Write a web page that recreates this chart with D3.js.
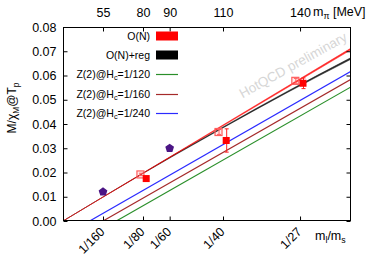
<!DOCTYPE html>
<html>
<head>
<meta charset="utf-8">
<script src="https://cdn.jsdelivr.net/npm/d3@7"></script>
<style>
  body { margin: 0; background: #fff; }
  text { font-family: "Liberation Sans", Arial, sans-serif; }
</style>
</head>
<body>
<script>
// m_l/m_s tick positions and labels, with the matching m_pi labels on top
const ratioTicks = [1 / 160, 1 / 80, 1 / 60, 1 / 40, 1 / 27];
const ratioLabels = ['1/160', '1/80', '1/60', '1/40', '1/27'];
const mpiLabels = ['55', '80', '90', '110', '140'];
const yTicks = [0, 0.01, 0.02, 0.03, 0.04, 0.05, 0.06, 0.07, 0.08];

// O(N) band (lower / upper edge)
const onX = [0, 0.045];
const onLow = [0, 0.0706];
const onHigh = [0, 0.0713];
// O(N)+reg band
const regX = [0, 0.0125, 0.0175, 0.025, 0.035, 0.045];
const regLow = [0, 0.0196, 0.0272, 0.0384, 0.0529, 0.0667];
const regHigh = [0, 0.0198, 0.0276, 0.0388, 0.0534, 0.0674];

// Z(2) lines: start at H_c on the axis, value at right edge
const zNames = ['1/120', '1/160', '1/240'];
const zStart = [1 / 120, 1 / 160, 1 / 240];
const zEnd = [0.0553, 0.0584, 0.0617];
const zColors = ['#2a8f2a', '#a52a2a', '#2b2bff'];

// lattice points
const openX = [0.0121, 0.0243, 0.0363];
const openY = [0.0192, 0.0367, 0.0578];
const openErr = [0.0005, 0.0010, 0.0010];
const fillX = [0.0130, 0.0255, 0.0375];
const fillY = [0.0175, 0.0332, 0.0568];
const fillErr = [0.0004, 0.0048, 0.0022];
const pentX = [1 / 160, 1 / 60];
const pentY = [0.0120, 0.0300];

const width = 374, height = 262;
const mLeft = 63, mRight = 351, mTop = 27, mBottom = 221;

const xScale = d3.scaleLinear().domain([0, 0.045]).range([mLeft, mRight]);
const yScale = d3.scaleLinear().domain([0, 0.08]).range([mBottom, mTop]);

const svg = d3.select('body')
  .append('svg')
  .attr('width', width)
  .attr('height', height);

svg.append('clipPath').attr('id', 'plot')
  .append('rect')
  .attr('x', mLeft).attr('y', mTop)
  .attr('width', mRight - mLeft).attr('height', mBottom - mTop);

// watermark
svg.append('text')
  .attr('transform', 'translate(293,65) rotate(-29)')
  .attr('text-anchor', 'middle')
  .attr('dy', '0.35em')
  .attr('font-size', 13.5)
  .attr('fill', '#d6d6d6')
  .text('HotQCD preliminary');

const plot = svg.append('g').attr('clip-path', 'url(#plot)');

// Z(2) lines
zStart.forEach((s, i) =>
{
  plot.append('line')
    .attr('x1', xScale(s)).attr('y1', yScale(0))
    .attr('x2', xScale(0.045)).attr('y2', yScale(zEnd[i]))
    .attr('stroke', zColors[i])
    .attr('stroke-width', 1.2);
});

// bands
function band(xs, lo, hi, color)
{
  const area = d3.area()
    .x((d, i) => xScale(xs[i]))
    .y0((d, i) => yScale(lo[i]))
    .y1((d, i) => yScale(hi[i]))
    .curve(d3.curveMonotoneX);
  plot.append('path')
    .attr('d', area(xs))
    .attr('fill', color)
    .attr('fill-opacity', 0.8)
    .attr('stroke', color)
    .attr('stroke-opacity', 0.7)
    .attr('stroke-width', 0.6);
}
band(regX, regLow, regHigh, '#000000');
band(onX, onLow, onHigh, '#ff0000');

// pentagons
const pent = d3.range(5).map((k) =>
{
  const a = -Math.PI / 2 + k * 2 * Math.PI / 5;
  return [4.6 * Math.cos(a), 4.6 * Math.sin(a)];
});
svg.selectAll('path.pent')
  .data(pentX)
  .enter()
  .append('path')
  .attr('class', 'pent')
  .attr('transform', (d, i) => 'translate(' + xScale(d) + ',' + yScale(pentY[i]) + ')')
  .attr('d', 'M' + pent.join('L') + 'Z')
  .attr('fill', '#4b1585');

// error bars
function errBars(xs, ys, es, color)
{
  xs.forEach((x, i) =>
  {
    const px = xScale(x) + 0.5;
    const g = svg.append('g').attr('stroke', color).attr('stroke-width', 1);
    g.append('line').attr('x1', px).attr('x2', px)
      .attr('y1', yScale(ys[i] - es[i])).attr('y2', yScale(ys[i] + es[i]));
    [ys[i] - es[i], ys[i] + es[i]].forEach((v) =>
    {
      g.append('line').attr('x1', px - 2).attr('x2', px + 2)
        .attr('y1', yScale(v)).attr('y2', yScale(v));
    });
  });
}
errBars(openX, openY, openErr, '#ff6666');
errBars(fillX, fillY, fillErr, '#ff2020');

svg.selectAll('rect.open')
  .data(openX)
  .enter()
  .append('rect')
  .attr('class', 'open')
  .attr('x', (d) => xScale(d) - 3.5)
  .attr('y', (d, i) => yScale(openY[i]) - 3.5)
  .attr('width', 7).attr('height', 7)
  .attr('fill', 'rgba(255,0,0,0.08)')
  .attr('stroke', '#ff5c5c')
  .attr('stroke-width', 1.2);

svg.selectAll('rect.full')
  .data(fillX)
  .enter()
  .append('rect')
  .attr('class', 'full')
  .attr('x', (d) => xScale(d) - 3.5)
  .attr('y', (d, i) => yScale(fillY[i]) - 3.5)
  .attr('width', 7).attr('height', 7)
  .attr('fill', '#ff0000');

// frame
svg.append('rect')
  .attr('x', mLeft + 0.5).attr('y', mTop + 0.5)
  .attr('width', mRight - mLeft - 1).attr('height', mBottom - mTop - 1)
  .attr('fill', 'none')
  .attr('stroke', '#000')
  .attr('stroke-width', 1);

// axes
svg.append('g')
  .attr('transform', 'translate(' + (mLeft + 0.5) + ',0)')
  .call(d3.axisLeft(yScale).tickValues(yTicks).tickFormat(d3.format('.2f'))
    .tickSize(-4).tickPadding(7));
svg.append('g')
  .attr('transform', 'translate(' + (mRight - 0.5) + ',0)')
  .call(d3.axisRight(yScale).tickValues(yTicks).tickFormat('').tickSize(-4));

const xAxis = svg.append('g')
  .attr('transform', 'translate(0,' + (mBottom - 0.5) + ')')
  .call(d3.axisBottom(xScale).tickValues(ratioTicks)
    .tickFormat((d, i) => ratioLabels[i]).tickSize(-4));
xAxis.selectAll('text')
  .attr('x', 2).attr('y', 12).attr('dy', null)
  .attr('text-anchor', 'end')
  .attr('transform', 'rotate(-45,2,12)');

svg.append('g')
  .attr('transform', 'translate(0,' + (mTop + 0.5) + ')')
  .call(d3.axisTop(xScale).tickValues(ratioTicks)
    .tickFormat((d, i) => mpiLabels[i]).tickSize(-4).tickPadding(11));

svg.selectAll('.domain').remove();
svg.selectAll('.tick line').attr('stroke', '#000');
svg.selectAll('.tick text')
  .attr('font-size', 12.5)
  .attr('font-family', '"Liberation Sans", Arial, sans-serif')
  .attr('fill', '#000');

// axis titles
const yTitle = svg.append('text')
  .attr('transform', 'translate(16,108) rotate(-90)')
  .attr('text-anchor', 'middle')
  .attr('font-size', 12);
yTitle.append('tspan').text('M/χ');
yTitle.append('tspan').attr('font-size', '0.7em').attr('dy', '0.3em').text('M');
yTitle.append('tspan').attr('dy', '-0.21em').text('@T');
yTitle.append('tspan').attr('font-size', '0.7em').attr('dy', '0.3em').text('p');

const xTitle = svg.append('text')
  .attr('x', 315).attr('y', 240)
  .attr('font-size', 12.5);
xTitle.append('tspan').text('m');
xTitle.append('tspan').attr('font-size', '0.7em').attr('dy', '0.3em').text('l');
xTitle.append('tspan').attr('dy', '-0.21em').text('/m');
xTitle.append('tspan').attr('font-size', '0.7em').attr('dy', '0.3em').text('s');

const topTitle = svg.append('text')
  .attr('x', 313).attr('y', 16)
  .attr('font-size', 12.5);
topTitle.append('tspan').text('m');
topTitle.append('tspan').attr('font-size', '0.7em').attr('dy', '0.3em').text('π');
topTitle.append('tspan').attr('dy', '-0.21em').text(' [MeV]');

// legend
const legendRows = [36, 55, 74, 94, 113];
const legendItems = [
  { label: 'O(N)', color: '#ff0000', box: true },
  { label: 'O(N)+reg', color: '#000000', box: true }
].concat(zNames.map((n, i) => ({ label: n, color: zColors[i], box: false })));

legendItems.forEach((item, i) =>
{
  const y = legendRows[i];
  const t = svg.append('text')
    .attr('x', 150).attr('y', y)
    .attr('dy', '0.35em')
    .attr('text-anchor', 'end')
    .attr('font-size', 10.5);
  if (item.box)
  {
    t.text(item.label);
    svg.append('rect')
      .attr('x', 156).attr('y', y - 4.5)
      .attr('width', 22).attr('height', 9)
      .attr('fill', item.color);
  }
  else
  {
    t.append('tspan').text('Z(2)@H');
    t.append('tspan').attr('font-size', '0.7em').attr('dy', '0.3em').text('c');
    t.append('tspan').attr('dy', '-0.21em').text('=' + item.label);
    svg.append('line')
      .attr('x1', 156).attr('x2', 178)
      .attr('y1', y + 0.5).attr('y2', y + 0.5)
      .attr('stroke', item.color)
      .attr('stroke-width', 1.2);
  }
});
</script>
</body>
</html>
